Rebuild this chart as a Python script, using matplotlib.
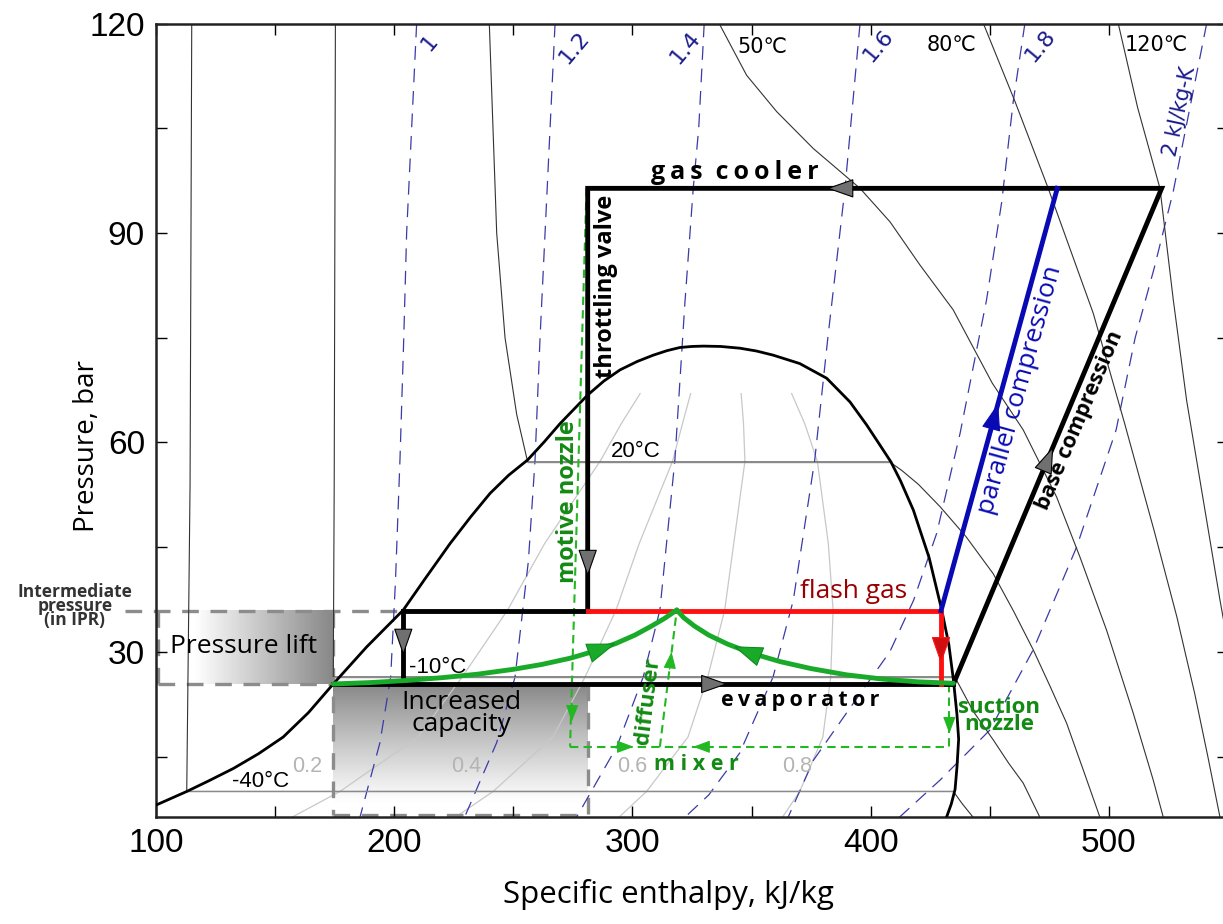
import numpy as np
import matplotlib.pyplot as plt
from matplotlib.ticker import FixedFormatter, FixedLocator

# ---- saturation dome (h in kJ/kg, p in bar) ----
dome_h = [100, 112.9, 122, 132.5, 143, 153.4, 164, 174.4, 188.4, 203.8, 213, 223.4, 232, 240.2, 248,
          256.0, 263, 269.6, 281.2, 288, 294.8, 302, 308.7, 314.5, 319.9, 325, 329.7, 337, 345.1, 352,
          359.1, 370.2, 381.5, 391.3, 398.3, 403.9, 408.5, 412.5, 417.9, 424.5, 429.8, 432.8, 434.7,
          436.2, 436.9, 436.2, 435.4, 433.8, 431.8]
dome_p = [8.05, 10.0, 11.5, 13.3, 15.4, 17.8, 21.3, 25.4, 30.7, 36.0, 40.5, 45.5, 49.3, 52.7, 55.3,
          57.5, 60.1, 62.7, 66.8, 68.8, 70.4, 71.6, 72.5, 73.15, 73.6, 73.75, 73.8, 73.75, 73.5, 73.1,
          72.5, 71.3, 69.2, 65.8, 62.5, 59.6, 57.2, 54.5, 50.3, 43.5, 36.0, 31.0, 26.0,
          21.0, 17.5, 13.5, 10.3, 8.2, 6.3]

# ---- isotherms ----
t_m40_h = [115.0, 114.3, 112.9, 434.7, 438.5, 443.0]
t_m40_p = [120, 54, 10.0, 10.0, 8.2, 6.3]
t_m10_h = [175.3, 174.8, 174.4, 435.3, 443.0, 451.4, 458.0, 464.0, 471.0]
t_m10_p = [120, 54, 26.4, 26.4, 21.5, 17.4, 14.0, 11.2, 6.3]
t_20_h = [239.9, 243.0, 246.5, 251.4, 256.0, 408.0, 413.0, 420.0, 429.1, 440.0, 451.4, 460.0, 468.2,
          475.5, 482.2, 489.5, 496.2]
t_20_p = [120, 90, 75, 64, 57.2, 57.2, 56.0, 54.0, 50.8, 46.5, 41.2, 35.8, 30.3, 24.9, 19.8, 12.8, 6.3]
t_50_h = [336.4, 347.9, 360.5, 375.9, 395.5, 408.1, 420.7, 434.6, 451.0, 464.0, 478.0, 487.8, 499.0,
          510.2, 518.6, 522.8]
t_50_p = [120, 112.6, 107.4, 102.1, 96.4, 91.6, 85.4, 79.0, 68.5, 61.8, 52.2, 43.6, 33.1, 21.2, 11.6, 6.3]
t_80_h = [447.3, 460.6, 474.5, 493.4, 506.5, 519.0, 528.5, 536.0, 541.5, 546.6]
t_80_p = [120, 108.8, 96.4, 78.5, 62.8, 47.3, 35.0, 24.0, 15.0, 6.3]
t_120_h = [503.9, 512.0, 521.4, 527.0, 532.6, 539.6, 546.6, 551.0]
t_120_p = [120, 108, 96.4, 80.4, 66.0, 51.7, 37.4, 29.0]
sat_lines = [(112.9, 434.7, 10.0), (174.4, 435.3, 26.4), (256.0, 408.0, 57.2)]

# ---- isentropes, kJ/kg-K ----
s_labels = ["1", "1.2", "1.4", "1.6", "1.8", "2 kJ/kg-K"]
s_h = [
    [209.4, 207.3, 205.2, 204.0, 202.4, 200.5, 198.5, 194.0, 185.6],
    [267.5, 265.4, 263.3, 261.2, 259.1, 256.3, 250.7, 243.0, 229.5],
    [330.1, 327.8, 325.5, 322.0, 317.8, 311.5, 304.5, 293.4, 276.5],
    [395.5, 389.2, 382.0, 376.5, 367.5, 359.0, 345.0, 332.0, 322.0],
    [464.7, 459.8, 455.0, 448.6, 437.5, 427.7, 418.0, 408.0, 395.5, 376.0, 365.3],
    [541.0, 534.0, 527.0, 519.0, 511.0, 503.0, 486.4, 468.2, 450.0, 429.0, 412.0],
]
s_p = [
    [120, 105, 90, 75, 57.5, 40, 26.4, 17, 6.3],
    [120, 105, 90, 75, 57.5, 43, 26.4, 17, 6.3],
    [120, 105, 96.4, 80, 57.5, 36, 26.4, 16.4, 6.3],
    [120, 96.4, 75, 57.5, 37.4, 26.4, 15.5, 9.5, 6.3],
    [120, 108.8, 94.5, 80.4, 61.3, 47, 37.4, 30, 24, 14.5, 6.3],
    [120, 108, 96, 85, 75.0, 61.8, 45, 30.3, 18.8, 11.6, 6.3],
]
s_label_pos = [(215, 117.3), (275.5, 116.5), (322, 116.5), (403, 116.9), (471, 116.9), (529.8, 107.5)]

# ---- vapour quality lines ----
q_p = [6.3, 10.0, 17.8, 26.4, 36.0, 45.5, 57.3, 62.7, 67.0]
q_h = {
    "0.2": [157.0, 177.2, 210.0, 228.5, 247.6, 263.1, 286.4, 295.3, 303.2],
    "0.4": [225.6, 241.5, 266.6, 280.1, 293.1, 302.8, 316.8, 321.0, 324.4],
    "0.6": [294.3, 305.9, 323.3, 331.6, 338.7, 342.5, 347.2, 346.6, 345.6],
    "0.8": [362.9, 370.2, 379.9, 383.2, 384.2, 382.2, 377.6, 372.3, 366.8],
}
q_label_pos = [(163.3, 13.6), (230.4, 13.6), (299.7, 13.6), (368.9, 13.6)]

# ---- cycle states ----
p_gc, p_ipr, p_ev, p_mix = 96.4, 35.9, 25.4, 16.4
h_gc_out, h_gc_in, h_par_out = 281.2, 522.1, 478.3
h_ipr_liq, h_ipr_vap = 203.8, 429.5
h_ev_in, h_ev_out = 174.4, 434.7
green_l_h = [174.4, 190, 205, 220, 235, 250, 262, 274, 284, 293, 301, 308, 313.5, 318.6]
green_l_p = [25.4, 25.6, 25.9, 26.3, 26.8, 27.5, 28.2, 29.1, 30.1, 31.2, 32.4, 33.7, 34.8, 36.0]
green_r_h = [434.7, 420, 405, 390, 375, 362, 350, 340, 332, 326, 321.5, 318.6]
green_r_p = [25.5, 25.7, 26.1, 26.7, 27.6, 28.6, 29.8, 31.1, 32.4, 33.7, 34.9, 36.0]
motive_h = [280.7, 273.8]
motive_p = [96.4, 16.4]
mixer_h = [273.8, 432.6]
diffuser_h = [311.5, 318.6]
diffuser_p = [16.4, 36.0]
suction_h = [433.0, 433.0]
suction_p = [25.4, 16.4]

W, H = 1223, 924
fig = plt.figure(figsize=(W / 100, H / 100), dpi=100)
ax = fig.add_axes([156 / W, 1 - 817.3 / H, (1228.1 - 156) / W, (817.3 - 23.6) / H])
ax.set_xlim(100, 550)
ax.set_ylim(6.3, 120)

# gradient boxes
gx = np.linspace(0, 1, 300)
lift = 1 - 0.47 * np.clip((gx - 0.22) / 0.78, 0, 1)
lift_img = np.stack([lift] * 3, axis=-1)[None, :, :].repeat(2, axis=0)
ax.imshow(lift_img, extent=[100, 174.4, 25.4, 35.9], aspect='auto', zorder=0.5, interpolation='bilinear')
gy = np.linspace(0, 1, 300)
cap = 0.52 + 0.48 * np.clip(gy / 0.9, 0, 1) ** 0.9
cap_img = np.stack([cap] * 3, axis=-1)[:, None, :].repeat(2, axis=1)
ax.imshow(cap_img, extent=[174.4, 281.2, 6.6, 25.4], aspect='auto', zorder=0.5,
          interpolation='bilinear', origin='upper')

# quality lines
for lab, pos in zip(q_h, q_label_pos):
    ax.plot(q_h[lab], q_p, color='#c8c8c8', lw=0.9, zorder=1)
    ax.text(pos[0], pos[1], lab, color='#b4b4b4', fontsize=15.5, family='Liberation Sans',
            ha='center', va='center', zorder=3)

# isentropes
for hh, pp, lab, pos in zip(s_h, s_p, s_labels, s_label_pos):
    ax.plot(hh, pp, color='#3a3aa8', lw=0.9, dashes=(11, 7), zorder=2)
    big = lab.startswith("2")
    ax.text(pos[0], pos[1], lab, color='#1a1a8c', fontsize=15 if big else 16, family='DejaVu Sans',
            rotation=78 if big else 50, ha='center', va='center', zorder=3)

# isotherms
for hh, pp in [(t_m40_h, t_m40_p), (t_m10_h, t_m10_p), (t_20_h, t_20_p),
               (t_50_h, t_50_p), (t_80_h, t_80_p), (t_120_h, t_120_p)]:
    ax.plot(hh, pp, color='#333333', lw=0.8, zorder=2)
for h0, h1, p in sat_lines:
    ax.plot([h0, h1], [p, p], color='#8a8a8a', lw=1.0, zorder=2)
ax.plot(dome_h, dome_p, color='black', lw=2.0, zorder=4)

tfont = dict(fontsize=16, family='Liberation Sans', zorder=3)
ax.text(143.7, 11.4, "-40°C", ha='center', va='center', **tfont)
ax.text(218, 27.8, "-10°C", ha='center', va='center', **tfont)
ax.text(301.5, 58.7, "20°C", ha='center', va='center', **tfont)
ax.text(354.5, 116.7, "50℃", ha='center', va='center', family='DejaVu Sans', fontsize=15)
ax.text(434, 117.0, "80℃", ha='center', va='center', family='DejaVu Sans', fontsize=15)
ax.text(520, 116.9, "120℃", ha='center', va='center', family='DejaVu Sans', fontsize=15)

# gray dashed helper lines
gd = dict(color='#8c8c8c', lw=2.4, dashes=(5, 3.5), zorder=1.5)
ax.plot([87, h_ipr_liq], [p_ipr, p_ipr], clip_on=False, **gd)
ax.plot([100.8, h_ev_in], [p_ev, p_ev], **gd)
ax.plot([100.8, 100.8], [p_ev, p_ipr], **gd)
ax.plot([h_ev_in, h_ev_in], [p_ipr, 6.6], **gd)
ax.plot([h_ev_in, h_gc_out], [6.6, 6.6], **gd)
ax.plot([h_gc_out, h_gc_out], [p_ev, 6.6], **gd)

# ejector path (green dashed)
gdash = dict(color='#22b822', lw=1.5, dashes=(4, 2.5), zorder=5)
ax.plot(motive_h, motive_p, **gdash)
ax.plot(mixer_h, [p_mix, p_mix], **gdash)
ax.plot(diffuser_h, diffuser_p, **gdash)
ax.plot(suction_h, suction_p, **gdash)

# cycle
lw = 3.5
ax.plot([h_ev_in, h_ev_out], [p_ev, p_ev], color='black', lw=lw, zorder=5)
ax.plot(green_l_h, green_l_p, color='#1aaa2a', lw=lw, zorder=6, solid_capstyle='round')
ax.plot(green_r_h, green_r_p, color='#1aaa2a', lw=lw, zorder=6, solid_capstyle='round')
ax.plot([h_ev_out, h_gc_in, h_gc_out, h_gc_out], [p_ev, p_gc, p_gc, p_ipr], color='black', lw=lw,
        zorder=5, solid_joinstyle='miter')
ax.plot([h_ipr_liq, h_ipr_liq], [p_ev, p_ipr], color='black', lw=lw, zorder=5)
ax.plot([h_ipr_liq, h_gc_out], [p_ipr, p_ipr], color='black', lw=lw, zorder=5)
ax.plot([h_gc_out, h_ipr_vap, h_ipr_vap], [p_ipr, p_ipr, p_ev], color='#ff1010', lw=lw, zorder=5)
ax.plot([h_ipr_vap, h_par_out], [p_ipr, p_gc], color='#0a0ab4', lw=lw, zorder=5)


def head(x0, y0, x1, y1, fc, ec, size=22, w=0.28):
    ax.annotate('', xy=(x1, y1), xytext=(x0, y0),
                arrowprops=dict(arrowstyle='-|>,head_length=0.8,head_width=%s' % w, fc=fc, ec=ec,
                                lw=0.8, shrinkA=0, shrinkB=0, mutation_scale=size), zorder=8)


gray = '#707070'
head(390, p_gc, 381.5, p_gc, gray, 'black')
head(h_gc_out, 43.6, h_gc_out, 40.8, gray, 'black')
head(h_ipr_liq, 32.3, h_ipr_liq, 29.5, gray, 'black')
head(330, p_ev, 340, p_ev, gray, 'black')
head(h_ipr_vap, 31.2, h_ipr_vap, 28.3, '#d01010', '#ff1010')
head(473.7, 57.0, 476.6, 59.4, gray, 'black')
head(451.4, 63.0, 453.5, 65.6, '#0a0ab4', '#0a0ab4')
head(284.0, 30.1, 293.0, 31.2, '#1aaa2a', '#0e8a1e', size=24)
head(350.0, 29.8, 342.5, 30.8, '#1aaa2a', '#0e8a1e', size=24)
gh = dict(size=13, w=0.3)
head(274.7, 22.5, 274.5, 20.0, '#22b822', '#22b822', **gh)
head(433.0, 20.5, 433.0, 18.3, '#22b822', '#22b822', **gh)
head(295.0, p_mix, 300.5, p_mix, '#22b822', '#22b822', **gh)
head(331.0, p_mix, 325.5, p_mix, '#22b822', '#22b822', **gh)
head(315.6, 27.5, 316.4, 30.0, '#22b822', '#22b822', **gh)

# annotations
ann = dict(family=['Open Sans', 'DejaVu Sans'], zorder=9)
ts = '\u2009'
ax.text(343, 98.7, ts.join("gas") + "  " + ts.join("cooler"), fontsize=18, fontweight='bold',
        ha='center', va='center', **ann)
ax.text(288.8, 82.3, "throttling valve", fontsize=17, fontweight='bold', rotation=90,
        ha='center', va='center', **ann)
ax.text(272.8, 51.5, "motive nozzle", fontsize=17, fontweight='bold', rotation=90, color='#138a13',
        ha='center', va='center', **ann)
ax.text(392.7, 38.6, "flash gas", fontsize=19, color='#9a0000', ha='center', va='center', **ann)
ax.text(370.3, 23.0, ts.join("evaporator"), fontsize=15.5, fontweight='bold', ha='center',
        va='center', **ann)
ax.text(327.0, 13.9, "m i x e r", fontsize=15.5, fontweight='bold', color='#138a13', ha='center',
        va='center', **ann)
ax.text(306.5, 23.0, "diffuser", fontsize=16, fontweight='bold', color='#138a13', rotation=83,
        ha='center', va='center', **ann)
ax.text(454.0, 20.8, "suction\nnozzle", fontsize=16, fontweight='bold', color='#138a13',
        ha='center', va='center', linespacing=0.8, **ann)
ax.text(462.6, 67.5, "parallel compression", fontsize=19, color='#0a0ab4', rotation=74.5,
        ha='center', va='center', **ann)
ax.text(487.8, 63.2, "base compression", fontsize=15.5, fontweight='bold', rotation=67,
        ha='center', va='center', **ann)
ax.text(136.7, 30.7, "Pressure lift", fontsize=19, ha='center', va='center', **ann)
ax.text(228.3, 21.2, "Increased\ncapacity", fontsize=19, ha='center', va='center', linespacing=0.85, **ann)
fig.text(75 / W, 1 - 606 / H, "Intermediate\npressure\n(in IPR)", fontsize=12.5, fontweight='bold',
         color='#333333', ha='center', va='center', linespacing=0.72, family='Open Sans')

# axes styling
ax.xaxis.set_major_locator(FixedLocator(np.arange(100, 551, 50)))
ax.xaxis.set_major_formatter(FixedFormatter(["100", "", "200", "", "300", "", "400", "", "500", ""]))
ax.yaxis.set_major_locator(FixedLocator(np.arange(15, 121, 15)))
ax.yaxis.set_major_formatter(FixedFormatter(["", "30", "", "60", "", "90", "", "120"]))
ax.tick_params(direction='in', top=True, right=True, length=8, width=1.0, labelsize=24, pad=8)
for lab in ax.get_xticklabels() + ax.get_yticklabels():
    lab.set_family('Liberation Sans')
for sp in ax.spines.values():
    sp.set_linewidth(1.8)
    sp.set_color('#222222')

fig.text(87.5 / W, 1 - 446 / H, "Pressure, bar", rotation=90, fontsize=20, ha='center', va='center',
         family='Open Sans')
fig.text(668 / W, 1 - 894 / H, "Specific enthalpy, kJ/kg", fontsize=22.5, ha='center', va='center',
         family='Open Sans')

fig.savefig('out.png', dpi=100)
